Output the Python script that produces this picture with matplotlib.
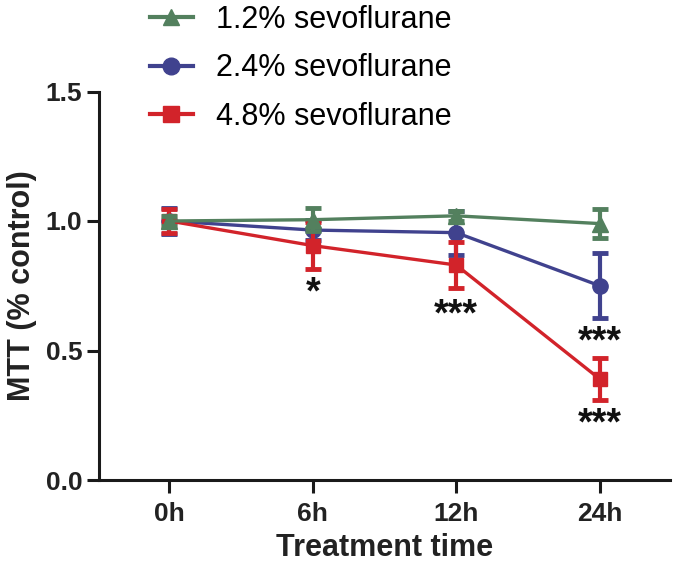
import matplotlib
matplotlib.use("Agg")
import matplotlib.pyplot as plt
from matplotlib.lines import Line2D

plt.rcParams['font.family'] = ['Liberation Sans', 'DejaVu Sans']

time_labels = ["0h", "6h", "12h", "24h"]
series_names = ["1.2% sevoflurane", "2.4% sevoflurane", "4.8% sevoflurane"]
green_mean = [1.00, 1.005, 1.02, 0.99]
green_err = [0.02, 0.045, 0.02, 0.055]
blue_mean = [1.00, 0.965, 0.955, 0.75]
blue_err = [0.05, 0.04, 0.085, 0.125]
red_mean = [1.00, 0.905, 0.83, 0.39]
red_err = [0.048, 0.09, 0.09, 0.08]
stars_pos = [(1, 0.72, "*"), (2, 0.635, "***"), (3, 0.53, "***"), (3, 0.215, "***")]

colors = {"green": "#53805e", "blue": "#40428e", "red": "#d2232a"}

fig = plt.figure(figsize=(6.75, 5.67), dpi=100)
ax = fig.add_axes([99/675, 1-480/567, (670-99)/675, (480-91.5)/567])

x = list(range(len(time_labels)))
specs = [
    (blue_mean, blue_err, colors["blue"], "o", 11, 2),
    (red_mean, red_err, colors["red"], "s", 10, 3),
    (green_mean, green_err, colors["green"], "^", 11, 4),
]
for mean, err, c, m, ms, z in specs:
    ax.errorbar(x, mean, yerr=err, color=c, marker=m, markersize=ms, lw=2.4,
                elinewidth=3, capsize=6, capthick=3.5, zorder=z)

for xi, yi, s in stars_pos:
    ax.text(xi, yi, s, ha="center", va="center", fontsize=27, fontweight="bold", color="#111111")

ax.set_xlim(-0.49, 3.49)
ax.set_ylim(0, 1.5)
ax.set_xticks(x)
ax.set_xticklabels(time_labels)
ax.set_yticks([0, 0.5, 1.0, 1.5])
ax.set_yticklabels(["0.0", "0.5", "1.0", "1.5"])
for s in ["top", "right"]:
    ax.spines[s].set_visible(False)
for s in ["left", "bottom"]:
    ax.spines[s].set_linewidth(2.2)
    ax.spines[s].set_color("#1a1a1a")
ax.tick_params(width=2.2, length=9, color="#1a1a1a", labelsize=19, pad=3)
ax.tick_params(axis="x", pad=7)
for lab in ax.get_xticklabels() + ax.get_yticklabels():
    lab.set_fontweight("bold")
    lab.set_color("#222222")
ax.set_xlabel("Treatment time", fontsize=22, fontweight="bold", color="#222222", labelpad=5)
ax.set_ylabel("MTT (% control)", fontsize=22, fontweight="bold", color="#222222", labelpad=6)

handles = [
    Line2D([], [], color=colors["green"], marker="^", markersize=12, lw=3),
    Line2D([], [], color=colors["blue"], marker="o", markersize=12, lw=3),
    Line2D([], [], color=colors["red"], marker="s", markersize=11, lw=3),
]
fig.legend(handles, series_names, loc="upper left", bbox_to_anchor=(150/675, 1 - 5/567),
           frameon=False, fontsize=22, handlelength=1.4, handletextpad=0.75,
           labelspacing=0.6, borderaxespad=0.0, borderpad=0.0)

fig.savefig("out.png", dpi=100)
